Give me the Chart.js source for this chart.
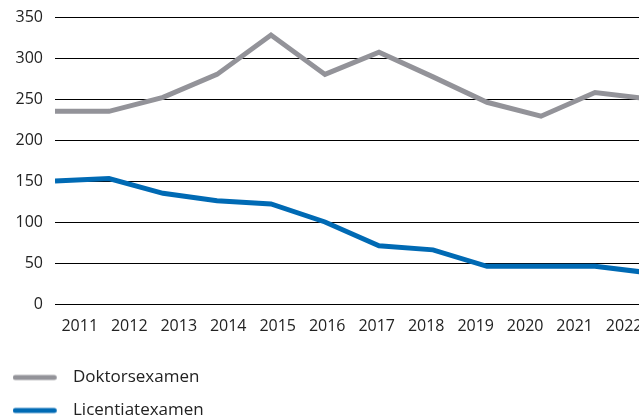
<!DOCTYPE html>
<html>
<head>
<meta charset="utf-8">
<script src="https://cdn.jsdelivr.net/npm/chart.js@4.4.1/dist/chart.umd.min.js"></script>
<style>
  html, body { margin: 0; padding: 0; background: #ffffff; }
  #wrap { width: 639px; height: 418px; }
</style>
</head>
<body>
<div id="wrap"><canvas id="lineChart"></canvas></div>
<script>

// DATA ################################################################

var years = ["2011", "2012", "2013", "2014", "2015", "2016",
             "2017", "2018", "2019", "2020", "2021", "2022"];
var doktorsexamen = [235, 235, 252, 280, 328, 280, 307, 277, 246, 229, 258, 250];
var licentiatexamen = [150, 153, 135, 126, 122, 100, 71, 66, 46, 46, 46, 38];
var yTicks = [0, 50, 100, 150, 200, 250, 300, 350];

var grayColor = "#939399";
var blueColor = "#006ab4";
var textColor = "#222222";
var fontFamily = "'Open Sans', 'Noto Sans', sans-serif";
var legendWidth = 220;


// HELPERS ################################################################

function toPoints(values) {
    return values.map(function (v, i) {
        return { x: i, y: v };
    });
}

// small legend swatch: a rounded line with some room after it
function makeSwatch(color) {
    var c = document.createElement("canvas");
    c.width = 52;
    c.height = 8;
    var g = c.getContext("2d");
    g.strokeStyle = color;
    g.lineWidth = 5;
    g.lineCap = "round";
    g.beginPath();
    g.moveTo(2.5, 4);
    g.lineTo(41.5, 4);
    g.stroke();
    return c;
}
var swatches = [makeSwatch(grayColor), makeSwatch(blueColor)];

// legend items one under the other: narrow legend for fitting and drawing
var narrowLegend = {
    id: "narrowLegend",
    beforeLayout: function (chart) {
        var lg = chart.legend;
        if (lg && !lg._narrow) {
            var origUpdate = lg.update;
            lg.update = function (maxWidth, maxHeight, margins) {
                return origUpdate.call(this, legendWidth, maxHeight, margins);
            };
            lg._narrow = true;
        }
    },
    afterLayout: function (chart) {
        var lg = chart.legend;
        if (lg) {
            lg.width = legendWidth;
            lg.right = lg.left + legendWidth;
        }
    }
};


// LINE GRAPH ################################################################

var ctx_line = document.getElementById("lineChart");

var myLineGraph = new Chart(ctx_line, {
    type: "line",
    data: {
        datasets: [
            {
                label: "Doktorsexamen",
                data: toPoints(doktorsexamen),
                borderColor: grayColor,
                backgroundColor: grayColor,
                borderWidth: 5,
                pointRadius: 0,
                tension: 0,
                xAxisID: "x",
                yAxisID: "y"
            },
            {
                label: "Licentiatexamen",
                data: toPoints(licentiatexamen),
                borderColor: blueColor,
                backgroundColor: blueColor,
                borderWidth: 5,
                pointRadius: 0,
                tension: 0,
                xAxisID: "x",
                yAxisID: "y"
            }
        ]
    },
    plugins: [narrowLegend],
    options: {
        responsive: true,
        maintainAspectRatio: false,
        animation: false,
        layout: {
            padding: { top: 17, left: -3, right: 0, bottom: -11 }
        },
        plugins: {
            tooltip: { enabled: false },
            legend: {
                position: "bottom",
                align: "start",
                labels: {
                    usePointStyle: true,
                    pointStyleWidth: 51.5,
                    padding: 16,
                    color: textColor,
                    font: { family: fontFamily, size: 17 },
                    generateLabels: function (chart) {
                        var items = Chart.defaults.plugins.legend.labels.generateLabels(chart);
                        items.forEach(function (item, i) {
                            item.pointStyle = swatches[i];
                        });
                        return items;
                    }
                }
            }
        },
        scales: {
            // the scale the lines are drawn on (last year runs past the edge)
            x: {
                type: "linear",
                min: 0,
                max: 10.815,
                display: false
            },
            // the year labels, centred in slots
            years: {
                type: "linear",
                position: "bottom",
                min: 0,
                max: 11.8,
                grid: { display: false, drawTicks: false },
                border: { display: false },
                ticks: {
                    autoSkip: false,
                    maxRotation: 0,
                    padding: 13,
                    color: textColor,
                    font: { family: fontFamily, size: 16 },
                    callback: function (value) {
                        return years[Math.floor(value)];
                    }
                },
                afterBuildTicks: function (scale) {
                    scale.ticks = years.map(function (y, i) {
                        return { value: i + 0.5 };
                    });
                },
                afterFit: function (scale) {
                    scale.paddingLeft = 0;
                    scale.paddingRight = 0;
                    scale.height = 49;
                }
            },
            y: {
                min: 0,
                max: 350,
                grid: { color: "#000000", lineWidth: 1, drawTicks: false },
                border: { display: false },
                ticks: {
                    padding: 12,
                    color: textColor,
                    font: { family: fontFamily, size: 16 },
                    callback: function (value) {
                        return value;
                    }
                },
                afterBuildTicks: function (scale) {
                    scale.ticks = yTicks.map(function (v) {
                        return { value: v };
                    });
                },
                afterFit: function (scale) {
                    scale.width = 58;
                    scale.paddingTop = 0;
                    scale.paddingBottom = 0;
                }
            }
        }
    }
});

</script>
</body>
</html>
